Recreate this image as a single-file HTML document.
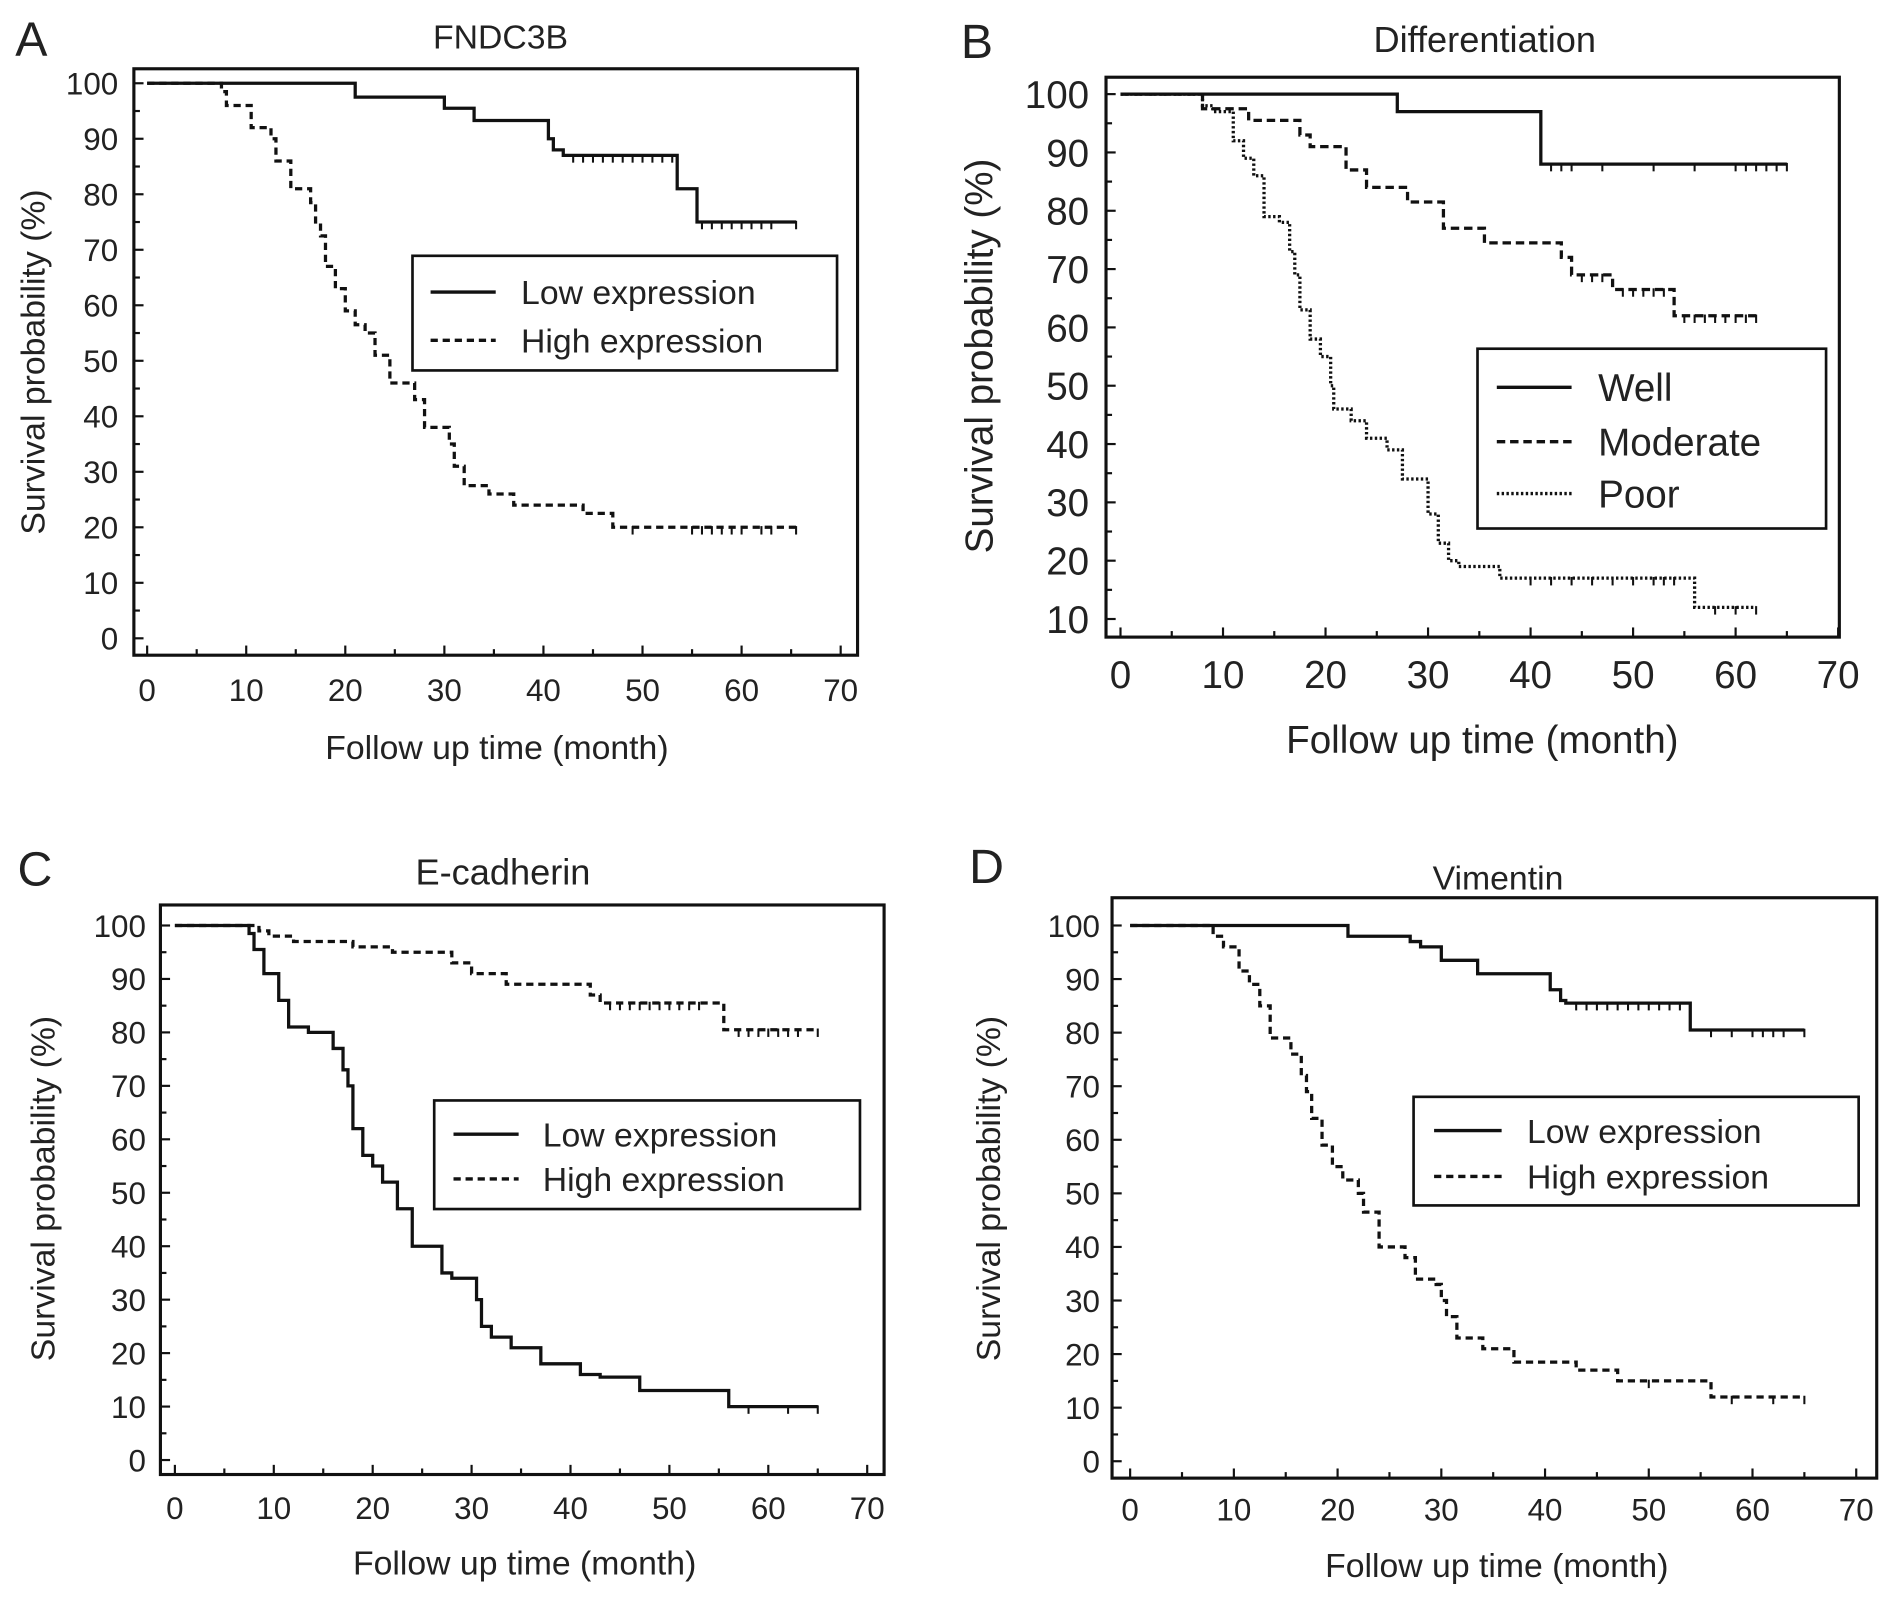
<!DOCTYPE html>
<html><head><meta charset="utf-8"><style>
html,body{margin:0;padding:0;background:#fff}
svg{display:block}
text{font-family:"Liberation Sans",Arial,sans-serif;fill:#222}
</style></head><body>
<svg id="fig" width="1890" height="1600" viewBox="0 0 1567 1326" preserveAspectRatio="none" xmlns="http://www.w3.org/2000/svg"></svg>
<script>
// ---- data (time in months, survival in %) ----
const xTicks = [0,10,20,30,40,50,60,70];
const yTicksA = [0,10,20,30,40,50,60,70,80,90,100];
const yTicksB = [10,20,30,40,50,60,70,80,90,100];

const aLowT = [0,21,30,33,40.5,41,42,53.5,55.5,65.5];
const aLowS = [100,97.5,95.5,93.3,90,88,87,81,75,75];
const aLowC = [43,44,45,46,47,48,49,50,51,52,53,56,57,58,59,60,61,62,63,65.5];
const aHighT = [0,7.5,8,10.5,12.5,13,14.5,16.5,17,17.5,18,19,20,21,22,23,24.5,27,28,30.5,31,32,34.5,37,44,47,65.5];
const aHighS = [100,98.5,96,92,90,86,81,78.5,75,72.5,67,63,59,56.5,55,51,46,43,38,35,31,27.5,26,24,22.5,20,20];
const aHighC = [49,55,56,57,58,59,60,62,63,65.5];

const bWellT = [0,27,41,65];
const bWellS = [100,97,88,88];
const bWellC = [42,43,44,47,52,56,60,61,62,63,64,65];
const bModT = [0,8,12.5,17.5,18.5,22,24,28,31.5,35.5,43,44,48,54,62];
const bModS = [100,97.5,95.5,93,91,87,84,81.5,77,74.5,72,69,66.5,62,62];
const bModC = [45,46,47,49,50,51,52,53,55,56,57,58,59,60,61,62];
const bPoorT = [0,8,9,11,12,13,14,15.5,16.5,17,17.5,18.5,19.5,20.5,20.8,22.5,24,26,27.5,30,31,32,33,37,56,62];
const bPoorS = [100,98,97,92,89,86,79,78,73,69,63,58,55,50,46,44,41,39,34,28,23,20,19,17,12,12];
const bPoorC = [40,42,44,46,48,50,52,53,54,58,60,62];

const cLowT = [0,7.5,8,9,10.5,11.5,13.5,16,17,17.5,18,19,20,21,22.5,24,27,28,30.5,31,32,34,37,41,43,47,56,65];
const cLowS = [100,98.5,95.5,91,86,81,80,77,73,70,62,57,55,52,47,40,35,34,30,25,23,21,18,16,15.5,13,10,10];
const cLowC = [58,62,65];
const cHighT = [0,8.5,9.5,12,18,22,28,30,33.5,42,43,55.5,65];
const cHighS = [100,99,98,97,96,95,93,91,89,87,85.5,80.5,80.5];
const cHighC = [44,45,46,47,48,49,50,51,52,53,57,58,59,60,61,62,63,65];

const dLowT = [0,21,27,28,30,33.5,40.5,41.5,42,54,65];
const dLowS = [100,98,97,96,93.5,91,88,86,85.5,80.5,80.5];
const dLowC = [43,44,45,46,47,48,49,50,51,52,53,56,58,60,61,62,63,65];
const dHighT = [0,8,9,10.5,11.5,12.5,13.5,15.5,16.5,17,17.5,18.5,19.5,20.5,22,22.5,24,26.5,27.5,29.5,30,30.5,31.5,34,37,43,47,56,65];
const dHighS = [100,98,96,91.5,89,85,79,76,72,69,64,59,55,52.5,50,46.5,40,38,34,33,30,27,23,21,18.5,17,15,12,12];
const dHighC = [50,58,62,65];

const NS = "http://www.w3.org/2000/svg";
const svg = document.getElementById('fig');
function el(tag, attrs, parent){
  const e = document.createElementNS(NS, tag);
  for (const k in attrs) e.setAttribute(k, attrs[k]);
  (parent||svg).appendChild(e);
  return e;
}
function txt(s, x, y, size, anchor, parent, name, rot){
  const t = el('text', {x:x, y:y, 'font-size':size, 'text-anchor':anchor||'middle'}, parent);
  if (rot) t.setAttribute('transform', 'rotate(-90 '+x+' '+y+')');
  t.textContent = s;
  
  
  return t;
}

function panel(p){
  const g = el('g', {});
  
  
  const X = v => p.x0 + (v - 0) * (p.x70 - p.x0) / 70;
  const Y = v => p.y100 + (100 - v) * (p.yLo - p.y100) / (100 - p.yLoVal);
  const box = el('rect', {x:p.bl, y:p.bt, width:p.br-p.bl, height:p.bb-p.bt, fill:'none', stroke:'#111', 'stroke-width':2.6}, g);
  
  
  txt(p.letter, p.letterX, p.letterY, 40, 'middle', g, 'panel-letter');
  txt(p.title, p.titleX, p.titleY, p.titleSize, 'middle', g, 'chart-title');
  for (let m = 0; m <= 70; m += 5){
    const len = m % 10 === 0 ? 8 : 5;
    const t = el('line', {x1:X(m), x2:X(m), y1:p.bb, y2:p.bb-len, stroke:'#111', 'stroke-width':1.8}, g);
    
    
  }
  xTicks.forEach(v => txt(String(v), X(v), p.xLabY, p.tickSize, 'middle', g, 'x-tick-label'));
  for (let s = p.yLoVal; s <= 100; s += 5){
    const len = s % 10 === 0 ? 8 : 5;
    const t = el('line', {x1:p.bl, x2:p.bl+len, y1:Y(s), y2:Y(s), stroke:'#111', 'stroke-width':1.8}, g);
    
    
  }
  p.yTicks.forEach(v => txt(String(v), p.yLabX, Y(v) + p.tickSize*0.36, p.tickSize, 'end', g, 'y-tick-label'));
  txt('Follow up time (month)', p.xTitleX, p.xTitleY, p.axisSize, 'middle', g, 'x-axis-title');
  txt('Survival probability (%)', p.yTitleX, p.yTitleY, p.axisSize, 'middle', g, 'y-axis-title', true);
  p.series.forEach(s => {
    let d = 'M' + X(s.t[0]) + ' ' + Y(s.s[0]);
    for (let i = 1; i < s.t.length; i++){
      d += ' H' + X(s.t[i]) + ' V' + Y(s.s[i]);
    }
    const path = el('path', {d:d, fill:'none', stroke:'#111', 'stroke-width':2.7, 'stroke-dasharray':s.dash}, g);
    
    
    s.c.forEach(ct => {
      let sv = s.s[0];
      for (let i = 0; i < s.t.length; i++){ if (s.t[i] <= ct) sv = s.s[i]; }
      const m = el('line', {x1:X(ct), x2:X(ct), y1:Y(sv)-1, y2:Y(sv)+6, stroke:'#111', 'stroke-width':1.7}, g);
      
      
    });
  });
  const L = p.legend;
  const lr = el('rect', {x:L.x1, y:L.y1, width:L.x2-L.x1, height:L.y2-L.y1, fill:'#fff', stroke:'#111', 'stroke-width':2.2}, g);
  
  
  p.series.forEach((s, i) => {
    const ly = L.rows[i];
    const ln = el('line', {x1:L.lx1, x2:L.lx2, y1:ly, y2:ly, stroke:'#111', 'stroke-width':2.8, 'stroke-dasharray':s.dash}, g);
    
    
    txt(s.label, L.tx, ly + L.size*0.36, L.size, 'start', g, 'legend-entry');
  });
}

panel({name:'panel-a-fndc3b', letter:'A', letterX:26, letterY:46, title:'FNDC3B', titleX:415, titleY:40, titleSize:28,
  bl:111, br:711, bt:57, bb:543, x0:122, x70:697, y100:69, yLo:529, yLoVal:0, yTicks:yTicksA,
  tickSize:26, axisSize:28, yLabX:98, xLabY:581, xTitleX:412, xTitleY:629, yTitleX:37, yTitleY:300,
  series:[
    {name:'low-expression', label:'Low expression', t:aLowT, s:aLowS, c:aLowC, dash:'none'},
    {name:'high-expression', label:'High expression', t:aHighT, s:aHighS, c:aHighC, dash:'6,4'}],
  legend:{x1:342, x2:694, y1:212, y2:307, lx1:357, lx2:411, tx:432, rows:[242,282], size:28}});

panel({name:'panel-b-differentiation', letter:'B', letterX:810, letterY:48, title:'Differentiation', titleX:1231, titleY:43, titleSize:30,
  bl:917, br:1525, bt:64, bb:528, x0:929, x70:1524, y100:78, yLo:513, yLoVal:10, yTicks:yTicksB,
  tickSize:32, axisSize:32, yLabX:903, xLabY:570, xTitleX:1229, xTitleY:624, yTitleX:823, yTitleY:295,
  series:[
    {name:'well', label:'Well', t:bWellT, s:bWellS, c:bWellC, dash:'none'},
    {name:'moderate', label:'Moderate', t:bModT, s:bModS, c:bModC, dash:'7,4'},
    {name:'poor', label:'Poor', t:bPoorT, s:bPoorS, c:bPoorC, dash:'2,2'}],
  legend:{x1:1225, x2:1514, y1:289, y2:438, lx1:1241, lx2:1303, tx:1325, rows:[321,366,409], size:32}});

panel({name:'panel-c-e-cadherin', letter:'C', letterX:29, letterY:734, title:'E-cadherin', titleX:417, titleY:733, titleSize:30,
  bl:133, br:733, bt:750, bb:1222, x0:145, x70:719, y100:767, yLo:1210, yLoVal:0, yTicks:yTicksA,
  tickSize:26, axisSize:28, yLabX:121, xLabY:1259, xTitleX:435, xTitleY:1305, yTitleX:45, yTitleY:985,
  series:[
    {name:'low-expression', label:'Low expression', t:cLowT, s:cLowS, c:cLowC, dash:'none'},
    {name:'high-expression', label:'High expression', t:cHighT, s:cHighS, c:cHighC, dash:'6,4'}],
  legend:{x1:360, x2:713, y1:912, y2:1002, lx1:376, lx2:430, tx:450, rows:[940,977], size:28}});

panel({name:'panel-d-vimentin', letter:'D', letterX:818, letterY:732, title:'Vimentin', titleX:1242, titleY:737, titleSize:28,
  bl:922, br:1556, bt:744, bb:1225, x0:937, x70:1539, y100:767, yLo:1211, yLoVal:0, yTicks:yTicksA,
  tickSize:26, axisSize:28, yLabX:912, xLabY:1260, xTitleX:1241, xTitleY:1307, yTitleX:829, yTitleY:985,
  series:[
    {name:'low-expression', label:'Low expression', t:dLowT, s:dLowS, c:dLowC, dash:'none'},
    {name:'high-expression', label:'High expression', t:dHighT, s:dHighS, c:dHighC, dash:'6,4'}],
  legend:{x1:1172, x2:1541, y1:909, y2:999, lx1:1189, lx2:1245, tx:1266, rows:[937,975], size:28}});
</script>
</body></html>
